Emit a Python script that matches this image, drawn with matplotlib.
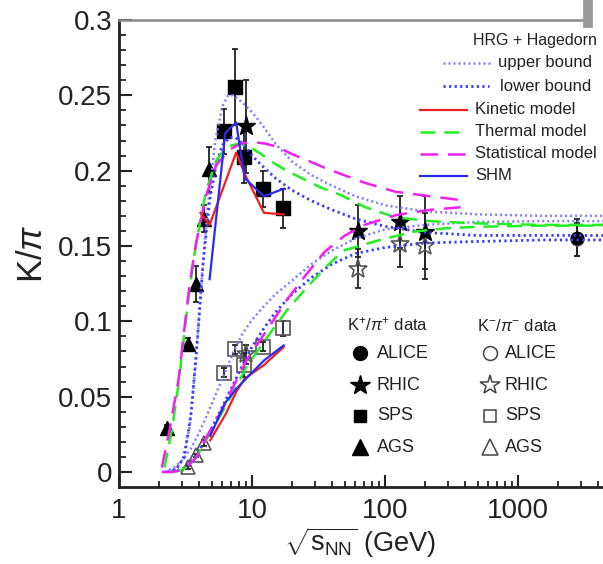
import numpy as np
import matplotlib
matplotlib.use("Agg")
import matplotlib.pyplot as plt
from matplotlib.lines import Line2D

plt.rcParams['font.family'] = ['Liberation Sans', 'DejaVu Sans']
plt.rcParams['mathtext.fontset'] = 'custom'
plt.rcParams['mathtext.rm'] = 'Liberation Sans'
plt.rcParams['mathtext.it'] = 'Liberation Sans:italic'
plt.rcParams['mathtext.bf'] = 'Liberation Sans:bold'
plt.rcParams['mathtext.sf'] = 'Liberation Sans'

# ---------------- data ----------------
# K+/pi+ data
ags_p_x = [2.3, 3.28, 3.82, 4.32, 4.78]
ags_p_y = [0.029, 0.085, 0.1245, 0.168, 0.201]
ags_p_e = [0.002, 0.004, 0.012, 0.009, 0.015]
sps_p_x = [6.2, 7.5, 8.75, 12.2, 17.2]
sps_p_y = [0.226, 0.2555, 0.209, 0.188, 0.175]
sps_p_e = [0.015, 0.025, 0.017, 0.012, 0.013]
rhic_p_x = [9.05, 62.4, 130, 200]
rhic_p_y = [0.2295, 0.160, 0.166, 0.159]
rhic_p_e = [0.031, 0.017, 0.017, 0.024]
alice_p_x = [2760]
alice_p_y = [0.1556]
alice_p_e = [0.012]

# K-/pi- data
ags_m_x = [3.28, 3.82, 4.35]
ags_m_y = [0.003, 0.011, 0.0195]
ags_m_e = [0.001, 0.001, 0.002]
sps_m_x = [6.2, 7.4, 8.75, 12.2, 17.2]
sps_m_y = [0.066, 0.0815, 0.071, 0.083, 0.0955]
sps_m_e = [0.003, 0.003, 0.008, 0.003, 0.005]
rhic_m_x = [9.05, 62.4, 130, 200]
rhic_m_y = [0.078, 0.135, 0.151, 0.150]
rhic_m_e = [0.006, 0.013, 0.015, 0.022]
alice_m_x = [2760]
alice_m_y = [0.1545]
alice_m_e = [0.011]

# HRG + Hagedorn upper bound
up_p_x = [2.2, 2.6, 3.0, 3.4, 3.8, 4.2, 4.7, 5.3, 6.0, 6.6, 7.2, 8.0, 9.0, 10.2, 12, 15, 20, 28, 40, 60, 100, 200, 500, 1500, 5000]
up_p_y = [0.0, 0.001, 0.008, 0.03, 0.075, 0.13, 0.18, 0.22, 0.243, 0.25, 0.25, 0.247, 0.243, 0.238, 0.23, 0.218, 0.206, 0.197, 0.19, 0.183, 0.177, 0.173, 0.171, 0.170, 0.170]
up_m_x = [2.2, 2.6, 3.0, 3.5, 4.0, 4.6, 5.3, 6.2, 7.2, 8.5, 10, 12, 15, 20, 28, 40, 60, 100, 200, 500, 1500, 5000]
up_m_y = [0.0, 0.003, 0.008, 0.016, 0.026, 0.038, 0.051, 0.065, 0.079, 0.092, 0.101, 0.109, 0.118, 0.127, 0.138, 0.147, 0.155, 0.161, 0.164, 0.166, 0.1665, 0.1665]
# lower bound
lo_p_x = [2.3, 2.7, 3.1, 3.5, 3.9, 4.3, 4.8, 5.4, 6.0, 6.8, 7.5, 8.5, 10, 12, 15, 20, 28, 40, 60, 100, 200, 500, 1500, 5000]
lo_p_y = [0.0, 0.002, 0.01, 0.04, 0.09, 0.14, 0.18, 0.205, 0.217, 0.222, 0.222, 0.218, 0.21, 0.203, 0.195, 0.187, 0.18, 0.174, 0.168, 0.163, 0.159, 0.157, 0.157, 0.157]
lo_m_x = [2.5, 3.0, 3.5, 4.0, 4.6, 5.3, 6.2, 7.2, 8.5, 10, 12, 15, 20, 28, 40, 60, 100, 200, 500, 1500, 5000]
lo_m_y = [0.0, 0.002, 0.007, 0.014, 0.023, 0.034, 0.046, 0.058, 0.071, 0.083, 0.094, 0.106, 0.118, 0.129, 0.138, 0.145, 0.149, 0.152, 0.153, 0.154, 0.154]

# Kinetic model
kin_p_x = [4.1, 4.8, 7.6, 8.8, 12.3, 17.3]
kin_p_y = [0.172, 0.164, 0.212, 0.198, 0.172, 0.171]
kin_m_x = [4.85, 6.3, 7.6, 8.8, 12.3, 17.3]
kin_m_y = [0.021, 0.038, 0.053, 0.062, 0.071, 0.083]

# Thermal model
th_p_x = [2.2, 2.5, 2.8, 3.1, 3.4, 3.8, 4.5, 5.4, 6.5, 8.0, 9.5, 11.5, 14, 18.2, 25, 32.5, 46, 70, 120, 220, 500, 1500, 5000]
th_p_y = [0.003, 0.028, 0.058, 0.092, 0.122, 0.152, 0.186, 0.207, 0.216, 0.218, 0.216, 0.2115, 0.206, 0.2, 0.194, 0.189, 0.184, 0.176, 0.169, 0.1665, 0.165, 0.164, 0.164]
th_m_x = [2.5, 2.9, 3.3, 3.84, 4.56, 5.75, 7.23, 9.12, 12.9, 18.2, 25, 35, 48.7, 70, 91.5, 163, 290, 517, 1500, 5000]
th_m_y = [0.0, 0.001, 0.004, 0.010, 0.022, 0.037, 0.053, 0.070, 0.089, 0.107, 0.121, 0.135, 0.147, 0.151, 0.154, 0.1595, 0.1618, 0.1628, 0.1635, 0.1635]

# Statistical model
st_p_x = [2.1, 2.4, 2.8, 3.1, 3.4, 3.8, 4.5, 5.4, 6.8, 8.2, 10.2, 12.5, 15.3, 20, 25.8, 35, 46, 70, 120, 220, 370]
st_p_y = [0.003, 0.028, 0.061, 0.095, 0.125, 0.152, 0.183, 0.204, 0.214, 0.218, 0.219, 0.218, 0.216, 0.211, 0.207, 0.202, 0.198, 0.192, 0.186, 0.183, 0.1805]
st_m_x = [2.1, 2.5, 2.9, 3.3, 3.84, 4.56, 5.75, 7.23, 9.12, 12.9, 18.2, 25, 35, 50, 70, 122, 218, 370]
st_m_y = [0.0, 0.0, 0.001, 0.004, 0.010, 0.0234, 0.039, 0.0566, 0.0743, 0.094, 0.114, 0.13, 0.146, 0.157, 0.164, 0.1706, 0.174, 0.1757]

# SHM
shm_p_x = [4.8, 6.3, 7.6, 8.8, 12.3, 17.3]
shm_p_y = [0.128, 0.225, 0.232, 0.195, 0.183, 0.188]
shm_m_x = [4.85, 6.3, 7.6, 8.8, 12.3, 17.3]
shm_m_y = [0.024, 0.046, 0.055, 0.061, 0.074, 0.084]

y_ticks = [0, 0.05, 0.1, 0.15, 0.2, 0.25, 0.3]
y_tick_labels = ['0', '0.05', '0.1', '0.15', '0.2', '0.25', '0.3']
x_ticks = [1, 10, 100, 1000]
x_tick_labels = ['1', '10', '100', '1000']

legend_lines = ['upper bound', 'lower bound', 'Kinetic model', 'Thermal model', 'Statistical model', 'SHM']
legend_markers = ['ALICE', 'RHIC', 'SPS', 'AGS']

# ---------------- figure ----------------
W, H = 603, 564
fig = plt.figure(figsize=(W / 100, H / 100), dpi=100)
ax = fig.add_axes([119 / W, 1 - 487 / H, (W - 119) / W, (487 - 20) / H])
ax.set_xscale('log')
ax.set_xlim(1, 10 ** ((603 - 119) / 133))
ax.set_ylim(-0.00996, 0.3)

C_UP = '#7f7fff'
C_LO = '#3a3aff'
C_RED = '#f02020'
C_GRN = '#22ee22'
C_MAG = '#f020f0'
C_BLU = '#2a2af0'
TXT = '#222222'

# data markers (below lines)
def data(x, y, e, marker, ms, filled):
    ax.errorbar(x, y, yerr=e, fmt='none', ecolor='#222222', elinewidth=1.3,
                capsize=2.0, capthick=1.3, zorder=2)
    if filled:
        ax.plot(x, y, ls='none', marker=marker, ms=ms, mfc='black', mec='black', zorder=2.5)
    else:
        ax.plot(x, y, ls='none', marker=marker, ms=ms, mfc='none', mec='#555555', mew=1.2, zorder=2.5)

data(ags_m_x, ags_m_y, ags_m_e, '^', 10, False)
data(sps_m_x, sps_m_y, sps_m_e, 's', 9.5, False)
data(rhic_m_x, rhic_m_y, rhic_m_e, '*', 14, False)
data(alice_m_x, alice_m_y, alice_m_e, 'o', 9, False)
data(ags_p_x, ags_p_y, ags_p_e, '^', 10, True)
data(sps_p_x, sps_p_y, sps_p_e, 's', 9.5, True)
data(rhic_p_x, rhic_p_y, rhic_p_e, '*', 14, True)
data(alice_p_x, alice_p_y, alice_p_e, 'o', 9, True)

# model curves
dot_up = dict(color=C_UP, lw=1.8, ls=(0, (0.8, 1.2)), zorder=3)
dot_lo = dict(color=C_LO, lw=2.0, ls=(0, (0.8, 1.2)), zorder=3)
ax.plot(up_p_x, up_p_y, **dot_up)
ax.plot(up_m_x, up_m_y, **dot_up)
ax.plot(lo_p_x, lo_p_y, **dot_lo)
ax.plot(lo_m_x, lo_m_y, **dot_lo)
dash_g = dict(color=C_GRN, lw=1.8, ls=(0, (6, 3.5)), zorder=3)
dash_m = dict(color=C_MAG, lw=1.8, ls=(0, (7, 4)), zorder=3)
ax.plot(th_p_x, th_p_y, **dash_g)
ax.plot(th_m_x, th_m_y, **dash_g)
ax.plot(st_p_x, st_p_y, **dash_m)
ax.plot(st_m_x, st_m_y, **dash_m)
ax.plot(kin_p_x, kin_p_y, color=C_RED, lw=1.6, zorder=3.2)
ax.plot(kin_m_x, kin_m_y, color=C_RED, lw=1.6, zorder=3.2)
ax.plot(shm_p_x, shm_p_y, color=C_BLU, lw=1.6, zorder=3.3)
ax.plot(shm_m_x, shm_m_y, color=C_BLU, lw=1.6, zorder=3.3)

# axes styling
for s in ['top', 'right']:
    ax.spines[s].set_visible(False)
for s in ['left', 'bottom']:
    ax.spines[s].set_linewidth(2.0)
    ax.spines[s].set_color('#222222')
ax.set_yticks(y_ticks)
ax.set_yticklabels(y_tick_labels)
ax.set_yticks(np.arange(-0.0, 0.3001, 0.01), minor=True)
ax.set_xticks(x_ticks)
ax.set_xticklabels(x_tick_labels)
ax.xaxis.set_minor_locator(matplotlib.ticker.LogLocator(base=10, subs=np.arange(2, 10)))
ax.xaxis.set_minor_formatter(matplotlib.ticker.NullFormatter())
ax.tick_params(axis='y', which='major', direction='in', length=9.5, width=1.5, labelsize=20, pad=5, colors='#222222')
ax.tick_params(axis='y', which='minor', direction='in', length=5, width=1.3, colors='#222222')
ax.tick_params(axis='x', which='major', direction='in', length=9, width=1.5, labelsize=20, pad=8, colors='#222222')
ax.tick_params(axis='x', which='minor', direction='in', length=4, width=1.3, colors='#222222')

ax.set_ylabel(r'K/$\pi$', fontsize=25, color=TXT, va='center')
ax.yaxis.set_label_coords((33 - 119) / 484, 0.5)
ax.set_xlabel(r'$\sqrt{\mathrm{s}_{\mathrm{NN}}}$ (GeV)', fontsize=19.5, color=TXT, va='center')
ax.xaxis.set_label_coords((360 - 119) / 484, -(543 - 487) / 467)

# frame artefacts at top
def fx(px):
    return px / W
def fy(py):
    return 1 - py / H
fig.add_artist(Line2D([fx(119), fx(586)], [fy(20), fy(20)], color='#8a8a8a', lw=1.8))
fig.add_artist(Line2D([fx(588), fx(588)], [fy(0), fy(23)], color='#9a9a9a', lw=7))

# legend 1 (lines)
fig.text(fx(597), fy(41), 'HRG + Hagedorn', ha='right', va='center', fontsize=11.5, color=TXT)
leg_styles = [
    (443, 491, 63, dot_up, 498),
    (443, 489, 86, dot_lo, 500),
    (420, 467, 110, dict(color=C_RED, lw=1.6), 475),
    (420, 467, 132, dash_g, 475),
    (420, 467, 154, dash_m, 475),
    (420, 467, 176, dict(color=C_BLU, lw=1.6), 475),
]
for (x0, x1, yy, sty, tx), lab in zip(leg_styles, legend_lines):
    st = dict(sty)
    st.pop('zorder', None)
    fig.add_artist(Line2D([fx(x0), fx(x1)], [fy(yy), fy(yy)], **st))
    fig.text(fx(tx), fy(yy), lab, ha='left', va='center', fontsize=12, color=TXT)

# legend 2 (markers)
fig.text(fx(347), fy(324), r'K$^{+}$/$\pi^{+}$ data', ha='left', va='center', fontsize=12, color=TXT)
fig.text(fx(477), fy(326), r'K$^{-}$/$\pi^{-}$ data', ha='left', va='center', fontsize=12, color=TXT)
mk = ['o', '*', 's', '^']
ms = [10, 15, 9, 11]
rows = [353, 385, 416, 447]
for m, s, r, lab in zip(mk, ms, rows, legend_markers):
    fig.add_artist(Line2D([fx(360)], [fy(r)], ls='none', marker=m, ms=s, mfc='black', mec='black'))
    fig.text(fx(377), fy(r), lab, ha='left', va='center', fontsize=13, color=TXT)
    fig.add_artist(Line2D([fx(490)], [fy(r)], ls='none', marker=m, ms=s, mfc='none', mec='#444444', mew=1.1))
    fig.text(fx(505), fy(r), lab, ha='left', va='center', fontsize=13, color=TXT)

fig.savefig('out.png', dpi=100)
